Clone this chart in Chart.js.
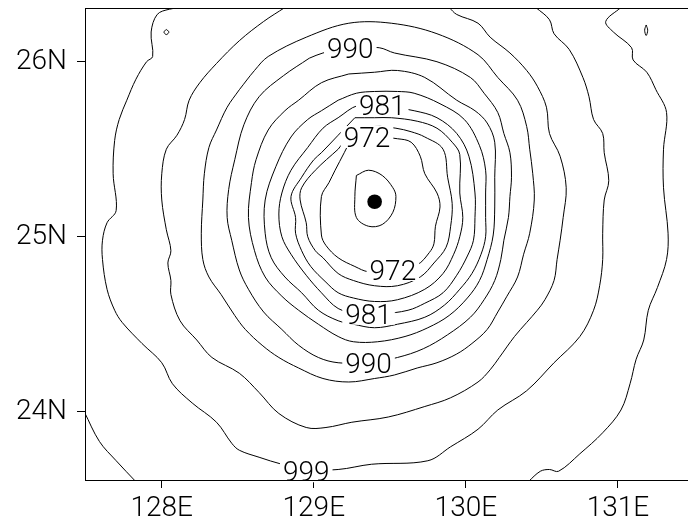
<!DOCTYPE html>
<html><head><meta charset="utf-8">
<script src="https://cdn.jsdelivr.net/npm/chart.js@4.4.1/dist/chart.umd.min.js"></script>
<style>html,body{margin:0;padding:0;overflow:hidden;background:#fff;}canvas{display:block;}</style>
</head><body>
<canvas id="c" width="700" height="521"></canvas>
<script>
const lonTicks = [128, 129, 130, 131];
const lonTickLabels = ["128E", "129E", "130E", "131E"];
const latTicks = [24, 25, 26];
const latTickLabels = ["24N", "25N", "26N"];
const centerLon = [129.40];
const centerLat = [25.20];

// contour lines, [lon, lat] pairs (hPa levels)
const c969 = [[129.28,25.35],[129.36,25.38],[129.45,25.35],[129.52,25.28],[129.54,25.23],[129.52,25.14],[129.45,25.07],[129.36,25.06],[129.28,25.11],[129.27,25.23]];
const c972 = [[129.24,25.55],[129.40,25.57],[129.55,25.56],[129.64,25.54],[129.70,25.46],[129.73,25.36],[129.81,25.25],[129.83,25.17],[129.80,25.06],[129.79,24.96],[129.76,24.91],[129.68,24.84],[129.52,24.81],[129.36,24.80],[129.27,24.83],[129.16,24.88],[129.08,24.95],[129.05,25.01],[129.05,25.23],[129.10,25.31],[129.14,25.38],[129.20,25.48]];
const c975 = [[129.16,25.50],[129.26,25.60],[129.40,25.63],[129.54,25.62],[129.64,25.60],[129.73,25.57],[129.85,25.50],[129.88,25.34],[129.91,25.19],[129.90,25.06],[129.87,24.94],[129.79,24.85],[129.70,24.77],[129.55,24.72],[129.40,24.72],[129.26,24.75],[129.16,24.79],[129.06,24.88],[129.01,24.92],[128.96,25.00],[128.95,25.08],[128.91,25.21],[128.92,25.28],[129.01,25.38]];
const c978 = [[129.27,25.68],[129.40,25.68],[129.51,25.68],[129.68,25.66],[129.81,25.62],[129.91,25.54],[129.96,25.47],[129.96,25.25],[129.98,25.11],[129.96,25.00],[129.92,24.90],[129.85,24.79],[129.73,24.70],[129.55,24.64],[129.40,24.63],[129.26,24.65],[129.16,24.68],[129.08,24.74],[128.98,24.83],[128.92,24.92],[128.88,25.02],[128.88,25.11],[128.85,25.23],[128.92,25.34],[129.00,25.44],[129.05,25.48],[129.16,25.58]];
const c981 = [[129.45,25.75],[129.66,25.72],[129.81,25.68],[129.94,25.59],[130.02,25.46],[130.06,25.25],[130.06,25.11],[130.05,24.98],[130.01,24.89],[129.94,24.78],[129.85,24.68],[129.73,24.62],[129.62,24.58],[129.45,24.56],[129.29,24.56],[129.16,24.59],[129.05,24.68],[128.95,24.78],[128.85,24.90],[128.79,25.00],[128.77,25.13],[128.79,25.25],[128.85,25.38],[128.96,25.51],[129.06,25.62],[129.16,25.68],[129.29,25.75]];
const c984 = [[129.16,25.78],[129.28,25.82],[129.40,25.83],[129.55,25.83],[129.66,25.82],[129.83,25.76],[129.99,25.67],[130.09,25.52],[130.13,25.38],[130.13,25.25],[130.13,25.11],[130.13,25.00],[130.10,24.90],[130.04,24.79],[129.96,24.70],[129.86,24.61],[129.73,24.54],[129.55,24.50],[129.40,24.48],[129.26,24.50],[129.16,24.52],[129.03,24.58],[128.92,24.68],[128.81,24.77],[128.72,24.88],[128.68,25.02],[128.68,25.21],[128.75,25.40],[128.85,25.57],[128.96,25.67],[129.05,25.72]];
const c987 = [[129.23,25.93],[129.40,25.94],[129.55,25.95],[129.73,25.91],[129.94,25.78],[130.06,25.72],[130.14,25.65],[130.19,25.54],[130.19,25.34],[130.19,25.17],[130.18,25.01],[130.14,24.87],[130.09,24.75],[130.01,24.65],[129.89,24.55],[129.75,24.48],[129.60,24.43],[129.42,24.40],[129.26,24.40],[129.16,24.43],[129.03,24.50],[128.90,24.58],[128.79,24.66],[128.68,24.77],[128.61,24.92],[128.57,25.11],[128.59,25.31],[128.62,25.44],[128.70,25.61],[128.81,25.72],[128.90,25.78],[129.05,25.88]];
const c990 = [[128.97,26.02],[129.06,26.05],[129.24,26.08],[129.43,26.08],[129.53,26.05],[129.81,26.00],[130.03,25.91],[130.12,25.82],[130.21,25.71],[130.25,25.59],[130.29,25.48],[130.30,25.34],[130.29,25.23],[130.28,25.11],[130.25,24.98],[130.23,24.87],[130.19,24.75],[130.12,24.64],[130.03,24.54],[129.88,24.44],[129.72,24.36],[129.55,24.31],[129.36,24.28],[129.16,24.28],[129.03,24.31],[128.90,24.38],[128.79,24.47],[128.67,24.57],[128.57,24.70],[128.51,24.81],[128.46,24.98],[128.43,25.11],[128.44,25.27],[128.48,25.44],[128.54,25.64],[128.64,25.80],[128.80,25.92]];
const c993 = [[128.51,25.84],[128.61,25.95],[128.70,26.03],[128.95,26.14],[129.23,26.22],[129.51,26.22],[129.81,26.16],[130.08,26.04],[130.21,25.91],[130.34,25.78],[130.40,25.63],[130.42,25.50],[130.44,25.36],[130.45,25.21],[130.42,25.02],[130.38,24.90],[130.34,24.77],[130.27,24.66],[130.21,24.57],[130.14,24.47],[130.04,24.39],[129.94,24.33],[129.81,24.28],[129.68,24.25],[129.53,24.21],[129.40,24.19],[129.23,24.17],[129.06,24.19],[128.90,24.25],[128.77,24.31],[128.66,24.38],[128.55,24.47],[128.48,24.55],[128.39,24.67],[128.31,24.77],[128.27,24.87],[128.26,25.02],[128.27,25.21],[128.28,25.36],[128.31,25.51],[128.36,25.61],[128.43,25.74]];
const c996 = [[128.81,26.31],[128.67,26.23],[128.51,26.12],[128.36,25.99],[128.25,25.88],[128.18,25.78],[128.15,25.67],[128.10,25.58],[128.03,25.50],[128.00,25.36],[128.00,25.21],[128.03,25.04],[128.06,24.92],[128.04,24.85],[128.06,24.75],[128.06,24.67],[128.12,24.52],[128.23,24.41],[128.33,24.31],[128.51,24.22],[128.64,24.11],[128.77,23.99],[128.95,23.91],[129.08,23.91],[129.25,23.94],[129.49,23.97],[129.73,24.03],[129.90,24.08],[130.08,24.17],[130.16,24.24],[130.22,24.31],[130.32,24.43],[130.40,24.51],[130.47,24.58],[130.52,24.64],[130.58,24.75],[130.60,24.87],[130.62,24.98],[130.64,25.11],[130.66,25.28],[130.62,25.46],[130.55,25.59],[130.53,25.74],[130.47,25.86],[130.40,25.95],[130.29,26.05],[130.16,26.14],[130.08,26.22],[129.94,26.27],[129.89,26.31]];
const c999 = [[128.15,26.31],[128.05,26.30],[127.97,26.27],[127.93,26.17],[127.94,26.03],[127.90,26.00],[127.83,25.90],[127.77,25.78],[127.72,25.67],[127.69,25.55],[127.68,25.36],[127.70,25.15],[127.64,25.08],[127.61,24.98],[127.61,24.87],[127.64,24.70],[127.69,24.58],[127.74,24.51],[127.87,24.39],[128.00,24.28],[128.07,24.16],[128.20,24.05],[128.36,23.94],[128.46,23.82],[128.51,23.78],[128.64,23.74],[128.79,23.70],[128.95,23.67],[129.16,23.67],[129.38,23.70],[129.75,23.72],[129.90,23.80],[130.08,23.90],[130.21,24.01],[130.40,24.12],[130.58,24.28],[130.75,24.43],[130.84,24.58],[130.88,24.72],[130.90,24.87],[130.90,25.02],[130.91,25.21],[130.94,25.32],[130.91,25.48],[130.90,25.59],[130.84,25.67],[130.81,25.80],[130.77,25.91],[130.68,26.07],[130.58,26.16],[130.55,26.24],[130.46,26.31]];
const c1002east = [[131.02,26.31],[130.92,26.23],[130.97,26.17],[131.09,26.08],[131.10,26.01],[131.19,25.94],[131.25,25.84],[131.32,25.71],[131.30,25.50],[131.30,25.28],[131.33,25.02],[131.32,24.87],[131.26,24.71],[131.20,24.58],[131.17,24.41],[131.12,24.30],[131.08,24.16],[131.02,24.01],[130.90,23.88],[130.75,23.76],[130.61,23.66],[130.55,23.67],[130.49,23.66],[130.41,23.60]];
const c1002west = [[127.49,24.00],[127.59,23.83],[127.70,23.72],[127.83,23.60]];
const cLoopWest = [[128.030,26.184],[128.047,26.170],[128.030,26.155],[128.014,26.170]];
const cLoopEast = [[131.186,26.210],[131.196,26.180],[131.186,26.150],[131.176,26.180]];

const closedLines = [c969, c972, c975, c978, c981, c984, c987, c990, c993, cLoopWest, cLoopEast];
const openLines = [c996, c999, c1002east, c1002west];

const labelText = ["990", "981", "972", "972", "981", "990", "999"];
const labelLon = [129.24, 129.45, 129.35, 129.52, 129.36, 129.36, 128.95];
const labelLat = [26.08, 25.75, 25.57, 24.81, 24.56, 24.28, 23.66];

const FONT = { family: 'Roboto, "DejaVu Sans", sans-serif', size: 28, weight: '300' };

function lineDataset(pairs, closed) {
  const pts = pairs.map(p => ({ x: p[0], y: p[1] }));
  if (closed) pts.push({ x: pairs[0][0], y: pairs[0][1] });
  return { data: pts, showLine: true, borderColor: '#000', borderWidth: 1, pointRadius: 0, pointHitRadius: 0, tension: 0.35, fill: false };
}

const datasets = [];
closedLines.forEach(l => datasets.push(lineDataset(l, true)));
openLines.forEach(l => datasets.push(lineDataset(l, false)));
datasets.push({ data: centerLon.map((v, i) => ({ x: v, y: centerLat[i] })), showLine: false, pointRadius: 7.3, backgroundColor: '#000', borderWidth: 0, pointStyle: 'circle' });

const labelPlugin = {
  id: 'contourLabels',
  afterDatasetsDraw(chart) {
    const { ctx, scales } = chart;
    ctx.save();
    ctx.font = FONT.weight + ' ' + FONT.size + 'px ' + FONT.family;
    ctx.textAlign = 'center';
    ctx.textBaseline = 'alphabetic';
    const capH = 20;
    labelText.forEach((t, i) => {
      const px = scales.x.getPixelForValue(labelLon[i]);
      const py = scales.y.getPixelForValue(labelLat[i]);
      const w = ctx.measureText(t).width;
      ctx.fillStyle = '#fff';
      ctx.fillRect(px - w / 2 - 3, py - capH / 2 - 1, w + 6, capH + 2);
      ctx.fillStyle = '#000';
      ctx.fillText(t, px, py + capH / 2);
    });
    ctx.restore();
  }
};

const framePlugin = {
  id: 'frame',
  afterDraw(chart) {
    const { ctx, chartArea: a } = chart;
    ctx.save();
    ctx.strokeStyle = '#000';
    ctx.lineWidth = 1;
    ctx.strokeRect(Math.round(a.left) + 0.5, Math.round(a.top) + 0.5, Math.round(a.right - a.left), Math.round(a.bottom - a.top));
    ctx.restore();
  }
};

new Chart(document.getElementById('c'), {
  type: 'scatter',
  data: { datasets },
  options: {
    responsive: false,
    animation: false,
    devicePixelRatio: 1,
    layout: { padding: { top: 8, right: 3, left: 0, bottom: 0 } },
    plugins: { legend: { display: false }, tooltip: { enabled: false } },
    scales: {
      x: {
        type: 'linear', min: 127.495, max: 131.492,
        afterBuildTicks: s => { s.ticks = lonTicks.map(v => ({ value: v })); },
        afterFit: s => { s.height = 41; s.paddingLeft = 0; s.paddingRight = 0; },
        ticks: { callback: (v, i) => lonTickLabels[i], font: FONT, color: '#000', padding: 4, maxRotation: 0, autoSkip: false },
        grid: { drawOnChartArea: false, drawTicks: true, tickLength: 8, color: '#000', lineWidth: 1 },
        border: { display: false }
      },
      y: {
        type: 'linear', min: 23.61, max: 26.307,
        afterBuildTicks: s => { s.ticks = latTicks.map(v => ({ value: v })); },
        afterFit: s => { s.width = 85; s.paddingTop = 0; s.paddingBottom = 0; },
        ticks: { callback: (v, i) => latTickLabels[i], font: FONT, color: '#000', padding: 10, autoSkip: false },
        grid: { drawOnChartArea: false, drawTicks: true, tickLength: 8, color: '#000', lineWidth: 1 },
        border: { display: false }
      }
    }
  },
  plugins: [labelPlugin, framePlugin]
});
</script>
</body></html>
